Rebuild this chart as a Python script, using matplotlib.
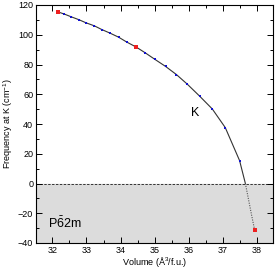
import numpy as np
import matplotlib
matplotlib.use('Agg')
import matplotlib.pyplot as plt
from matplotlib.ticker import MultipleLocator

plt.rcParams['font.family'] = ['Liberation Sans', 'DejaVu Sans']
plt.rcParams['mathtext.fontset'] = 'custom'
plt.rcParams['mathtext.rm'] = 'Liberation Sans'
plt.rcParams['mathtext.it'] = 'Liberation Sans'

# ─── DATOS ───────────────────────────────────────────────────────────────
vol_azul = [32.35, 32.56, 32.78, 32.99, 33.23, 33.45, 33.69, 33.94, 34.18,
            34.72, 35.01, 35.32, 35.64, 35.96, 36.32, 36.69, 37.07, 37.49]
frec_azul = [113.9, 112.0, 110.1, 108.0, 106.0, 103.5, 101.1, 98.4, 95.1,
             87.9, 83.4, 78.7, 73.2, 66.7, 58.7, 50.1, 37.6, 15.4]
vol_rojo = [32.16, 34.46, 37.93]
frec_rojo = [115.4, 91.7, -31.1]

# curva ajustada (sólida por encima de 0, punteada por debajo)
vol_curva = [32.16] + vol_azul[:9] + [34.46] + vol_azul[9:] + [37.66]
frec_curva = [115.4] + frec_azul[:9] + [91.7] + frec_azul[9:] + [0.0]
vol_punt = [37.66, 37.75, 37.84, 37.93]
frec_punt = [0.0, -10.5, -21.0, -31.1]

fig = plt.figure(figsize=(2.75, 2.70), dpi=100)
ax = fig.add_axes([36/275, 27/270, 237/275, 238/270])

ax.axhspan(-40, 0, color='#dcdcdc', zorder=0)
ax.axhline(0, color='#333333', lw=0.7, ls=(0, (2.5, 1.5)), zorder=1)

ax.plot(vol_curva, frec_curva, color='#333333', lw=0.8, zorder=2)
ax.plot(vol_punt, frec_punt, color='#555555', lw=0.8, ls=(0, (1, 1.2)), zorder=2)
ax.plot(vol_azul, frec_azul, 's', color='#1010d0', ms=1.6, mew=0, zorder=3)
ax.plot(vol_rojo, frec_rojo, 's', color='#ee2020', ms=2.8, mew=0, zorder=3)

ax.set_xlim(31.52, 38.47)
ax.set_ylim(-40, 120)
ax.xaxis.set_major_locator(MultipleLocator(1))
ax.xaxis.set_minor_locator(MultipleLocator(0.5))
ax.yaxis.set_major_locator(MultipleLocator(20))
ax.yaxis.set_minor_locator(MultipleLocator(10))
ax.tick_params(which='both', direction='in', top=True, right=True,
               labelsize=6.5, width=0.7, pad=2)
ax.tick_params(which='major', length=4)
ax.tick_params(which='minor', length=2)
for s in ax.spines.values():
    s.set_linewidth(0.8)

ax.set_xlabel('Volume (Å$^3$/f.u.)', fontsize=6.5, labelpad=0.5)
ax.set_ylabel('Frequency at K (cm$^{-1}$)', fontsize=6.5, labelpad=2)

ax.text(36.2, 47.6, 'K', fontsize=9, ha='center', va='center')
ax.text(31.86, -26.6, r'P$\bar{6}$2m', fontsize=9, ha='left', va='center')

fig.savefig('out.png', dpi=100)
